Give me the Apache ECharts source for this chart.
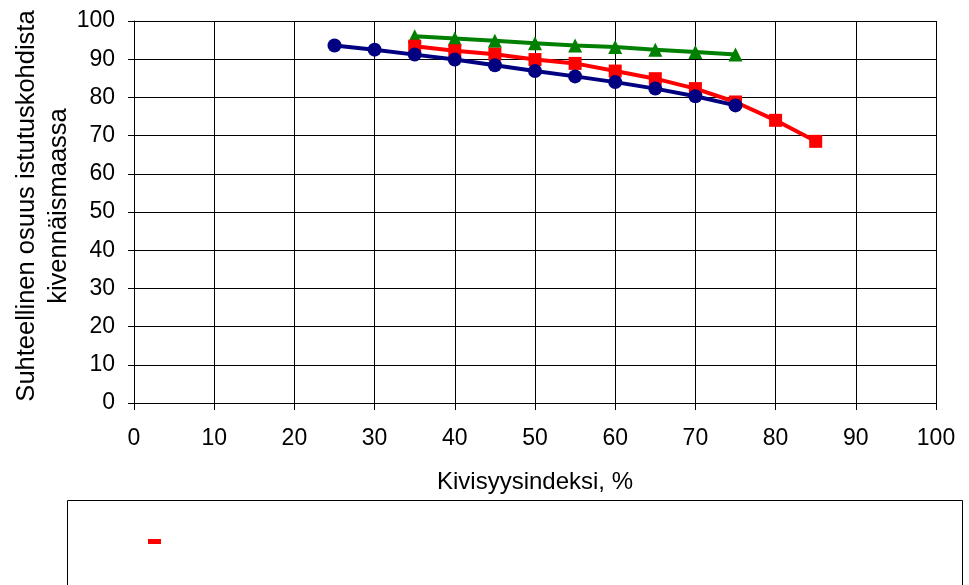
<!DOCTYPE html>
<html>
<head>
<meta charset="utf-8">
<script src="https://cdn.jsdelivr.net/npm/echarts@6/dist/echarts.min.js"></script>
<style>
html,body{margin:0;padding:0;background:#fff;}
#chart{width:969px;height:585px;}
</style>
</head>
<body>
<div id="chart"></div>
<script>
var xTicks = [0, 10, 20, 30, 40, 50, 60, 70, 80, 90, 100];
var blueX = [25, 30, 35, 40, 45, 50, 55, 60, 65, 70, 75];
var blueY = [93.6, 92.5, 91.2, 89.9, 88.4, 86.9, 85.5, 84.0, 82.3, 80.3, 77.9];
var redX = [35, 40, 45, 50, 55, 60, 65, 70, 75, 80, 85];
var redY = [93.4, 92.2, 91.3, 89.9, 88.9, 86.9, 84.9, 82.3, 78.8, 74.0, 68.5];
var greenX = [35, 40, 45, 50, 55, 60, 65, 70, 75];
var greenY = [96.0, 95.4, 94.8, 94.2, 93.6, 93.2, 92.5, 91.9, 91.2];
var xName = 'Kivisyysindeksi, %';
var yName = 'Suhteellinen osuus istutuskohdista\nkivennäismaassa';

function pairs(xs, ys) { return xs.map(function (x, i) { return [x, ys[i]]; }); }

var FONT = "'Liberation Sans', Arial, sans-serif";
var chart = echarts.init(document.getElementById('chart'), null, {renderer: 'canvas'});
chart.setOption({
  animation: false,
  backgroundColor: '#ffffff',
  grid: {left: 134, right: 33, top: 21, bottom: 182, containLabel: false, outerBoundsMode: 'none'},
  xAxis: {
    type: 'value', min: 0, max: 100, interval: 10,
    name: xName, nameLocation: 'middle', nameGap: 67, nameMoveOverlap: false,
    nameTextStyle: {fontFamily: FONT, fontSize: 24, color: '#000'},
    axisLine: {show: true, lineStyle: {color: '#000', width: 1}},
    axisTick: {show: true, length: 7, lineStyle: {color: '#000'}},
    axisLabel: {fontFamily: FONT, fontSize: 23, color: '#000', margin: 24},
    splitLine: {show: true, lineStyle: {color: '#000', width: 1}}
  },
  yAxis: {
    type: 'value', min: 0, max: 100, interval: 10,
    name: yName, nameLocation: 'middle', nameGap: 59, nameRotate: 90, nameMoveOverlap: false,
    nameTextStyle: {fontFamily: FONT, fontSize: 25.5, color: '#000', lineHeight: 32, align: 'center', padding: [0, 0, 0, 12]},
    axisLine: {show: true, lineStyle: {color: '#000', width: 1}},
    axisTick: {show: true, length: 6, lineStyle: {color: '#000'}},
    axisLabel: {fontFamily: FONT, fontSize: 23, color: '#000', margin: 19},
    splitLine: {show: true, lineStyle: {color: '#000', width: 1}}
  },
  legend: {
    left: 148, top: 539, itemWidth: 13, itemHeight: 5, itemGap: 0, padding: 0,
    data: [{name: 'Sarja2', icon: 'rect', itemStyle: {color: '#ff0000'}}],
    formatter: function () { return ''; },
    textStyle: {fontSize: 1}
  },
  graphic: [{
    type: 'rect', left: 67, top: 500, z: -1,
    shape: {width: 895, height: 100},
    style: {fill: '#fff', stroke: '#000', lineWidth: 1}
  }],
  series: [
    {
      name: 'Sarja3', type: 'line', data: pairs(greenX, greenY), z: 2,
      symbol: 'triangle', symbolSize: 14,
      lineStyle: {color: '#008000', width: 4},
      itemStyle: {color: '#008000'}
    },
    {
      name: 'Sarja2', type: 'line', data: pairs(redX, redY), z: 3,
      symbol: 'rect', symbolSize: 13,
      lineStyle: {color: '#ff0000', width: 4},
      itemStyle: {color: '#ff0000'}
    },
    {
      name: 'Sarja1', type: 'line', data: pairs(blueX, blueY), z: 4,
      symbol: 'circle', symbolSize: 14,
      lineStyle: {color: '#000080', width: 4},
      itemStyle: {color: '#000080'}
    }
  ]
});
</script>
</body>
</html>
